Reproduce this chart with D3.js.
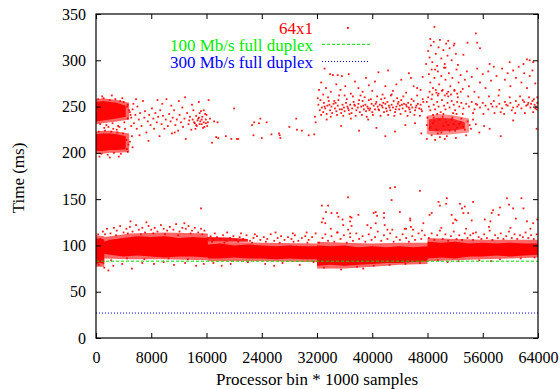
<!DOCTYPE html>
<html><head><meta charset="utf-8">
<script src="https://cdn.jsdelivr.net/npm/d3@7/dist/d3.min.js"></script>
<style>body{margin:0;background:#fff}svg{display:block}
text{font-family:"Liberation Serif","Times New Roman","DejaVu Serif",serif !important;}</style>
</head><body><svg id="c" width="560" height="389"></svg>
<script>
// ---- data (x in thousands of samples, y in ms) ----
const xTickValues = [0,8000,16000,24000,32000,40000,48000,56000,64000];
const yTickValues = [0,50,100,150,200,250,300,350];
const seriesLabel = "64x1";
const refLabels = ["100 Mb/s full duplex","300 Mb/s full duplex"];
const refValues = [83, 27];

// dense lower band envelope (solid core + softer halo)
const coreX  = [0,0.6,1.2,1.2,2,4,6,8,10,12,14,16.2,16.2,18,20,22,24,26,28,30,32,32,34,36,38,40,42,44,46,48,48,50,52,54,56,58,60,62,64];
const coreHi = [107,108,106,104,106,108,110,109,110,108,109,108,101,102,100,101,100,99,100,99,99,100,99,100,98,99,98,99,98,99,104,103,104,102,103,102,103,102,102];
const coreLo = [80,81,80,91,90,88,89,88,87,88,88,87,86,86,87,86,86,85,86,85,85,78,79,78,79,80,81,81,82,83,86,87,86,88,88,89,88,89,90];
const haloX  = [0,1.2,1.2,5,10,16.2,16.2,24,32,32,36,40,44,48,48,52,56,60,64];
const haloHi = [111,110,109,113,114,113,104,103,102,104,103,102,103,103,108,107,106,106,106];
const haloLo = [77,77,86,85,85,84,83,83,82,75,75,77,79,80,83,84,85,86,87];
// dense stripe 16-22k
const stripeX = [16.2,19,22];
const stripeLo = [104,104,104];
const stripeHi = [109,108.5,107];
// dense upper clusters
const clusterAX = [0,1,2,3,4.3];
const clusterALo = [234,235,236,237,239];
const clusterAHi = [255,256,255,254,251];
const haloAX = [0,1,2,3,4.8];
const haloALo = [231,232,233,234,236];
const haloAHi = [258,259,258,257,254];
const clusterBX = [0,1,2,3,4.3];
const clusterBLo = [202,202,203,203,204];
const clusterBHi = [220,221,221,220,218];
const haloBX = [0,1,2,3,4.8];
const haloBLo = [199,199,200,200,201];
const haloBHi = [223,224,224,223,221];
const clusterCX = [48.2,49.5,51.5,53.4];
const clusterCLo = [224,223,224,226];
const clusterCHi = [236,238,237,233];
const haloCX = [47.9,49.5,51.5,54.0];
const haloCLo = [220,219,220,222];
const haloCHi = [240,242,241,237];

const upperLeft = [[0.3,258],[1.1,259],[2.0,257],[2.8,258],[3.5,256],[4.0,255],[0.6,231],[1.5,230],[2.4,232],[3.2,229],[4.1,233],[4.5,250],[4.8,246],[5.0,241],[4.6,237],
[0.4,223],[1.3,224],[2.2,223],[3.1,222],[3.9,221],[0.8,199],[1.7,198],[2.6,200],[3.6,199],[4.4,214],[4.7,209],[4.5,204],[5.2,218],[1.2,227],[2.5,226],[3.4,228],[4.2,226],
[0.9,261],[2.3,262],[3.8,259],[5.4,253],[5.1,229],[4.9,212],[5.3,206],[0.5,196],[2.0,195],[3.3,196],[4.6,201],[1.8,228],[3.0,225],
[4.6,252],[4.9,244],[5.1,238],[5.3,247],[5.5,232],[5.7,241],[5.9,226],[6.0,250],[6.2,236],[6.4,243],[6.6,229],[6.8,256],[7.0,238],[7.1,245],[7.3,222],[7.5,234],[7.7,241],[7.9,230],[8.1,248],[8.3,237],[8.4,226],[8.6,243],[8.8,233],[9.0,239],[9.2,218],[9.3,246],[9.5,231],[9.7,240],[9.9,226],[10.1,236],[10.2,258],[10.4,229],[10.6,242],[10.8,234],[11.0,221],[11.1,238],[11.3,246],[11.5,230],[11.7,236],[11.9,224],[12.1,241],[12.3,233],[12.5,249],[12.6,228],[12.8,237],[13.0,215],[13.2,243],[13.4,231],[13.6,239],[13.8,225],[14.0,236],[14.1,246],[14.3,232],[14.5,240],[14.6,229],[14.8,237],[15.0,243],[15.1,234],[15.3,231],[15.4,239],[15.6,246],[15.7,228],[15.9,236],[16.0,241],[16.2,233],[16.3,257],[16.5,237],[14.9,255],[13.9,252],[12.0,256],[11.4,222],[7.6,213],[6.3,219],[9.6,253],[8.9,257],[10.9,251],[5.8,258],[12.9,260],[15.5,227],[16.1,229],[14.4,226],[13.5,235],[15.2,245],[15.8,242],
[14.2,233],[14.7,235],[15.0,231],[15.6,233],[14.9,238],[15.3,236],[14.5,230],[15.9,232]];

const upperMid = [[20.0,248],[17.1,234],[17.6,233],[17.4,217],[16.8,211],[17.7,216],[18.8,218],[19.6,215],[20.4,215],[20.6,215],[22.8,219],[24.0,216],[22.9,233],[22.6,230],[23.6,232],[23.8,237],[24.7,233],[25.4,220],[26.5,221],[26.6,219],[26.7,216],[28.0,228],[29.0,237],[29.1,225],[29.8,224],[30.8,219],[31.6,220],[31.8,233],
[32.2,252],[32.4,246],[32.5,257],[32.7,249],[32.9,244],[33.0,254],[33.2,248],[33.4,242],[33.5,251],[33.7,256],[33.9,246],[34.1,250],[34.2,243],[34.4,253],[34.6,248],[34.8,245],[35.0,251],[35.1,257],[35.3,247],[35.5,243],[35.7,252],[35.9,249],[36.0,245],[36.2,254],[36.4,250],[36.6,246],[36.8,252],[37.0,243],[37.1,248],[37.3,255],[37.5,251],[37.7,246],[37.9,249],[38.0,253],[38.2,244],[38.4,250],[38.6,256],[38.8,247],[39.0,252],[39.1,245],[39.3,250],[39.5,257],[39.7,248],[39.9,253],[40.0,244],[40.2,251],[40.4,247],[40.6,255],[40.8,250],[41.0,246],[41.1,252],[41.3,258],[41.5,249],[41.7,244],[41.9,253],[42.0,248],[42.2,255],[42.4,251],[42.6,246],[42.8,252],[43.0,249],[43.1,256],[43.3,244],[43.5,250],[43.7,253],[43.9,247],[44.0,251],[44.2,257],[44.4,248],[44.6,253],[44.8,245],[45.0,250],[45.2,254],[45.4,247],[45.6,252],[45.8,249],[46.0,256],[46.2,246],[46.4,251],[46.6,253],[46.8,248],[47.0,252],[47.2,245],[47.4,255],[41.6,254],[42.1,245],[43.8,255],[44.9,252],[45.5,244],[40.5,253],[39.6,246],
[32.1,259],[32.6,241],[33.1,250],[33.6,260],[34.0,239],[34.5,256],[34.9,241],[35.2,262],[35.8,240],[36.3,258],[36.7,242],[37.2,261],[37.6,240],[38.1,257],[38.5,241],[38.9,260],[39.2,239],[39.8,258],[40.1,241],[40.7,261],[41.2,240],[41.8,259],[42.3,241],[42.7,262],[43.2,240],[43.6,259],[44.1,242],[44.5,261],[45.1,240],[45.7,258],[46.1,241],[46.5,262],[46.9,240],[47.3,258],[33.8,252],[35.6,247],[37.4,252],[39.4,248],[41.4,251],[43.4,247],[45.3,249],[47.1,247],[34.7,254],[36.5,248],[38.7,251],[40.9,247],[42.5,249],[44.3,252],[46.3,249],
[32.3,268],[32.6,276],[32.9,263],[33.1,291],[33.3,270],[33.9,285],[34.3,284],[35.0,284],[35.6,283],[36.6,285],[34.0,266],[34.8,274],[35.4,268],[36.1,272],[36.9,264],[37.5,277],[38.0,270],[38.6,266],[39.1,281],[39.5,273],[40.0,267],[40.4,277],[40.9,287],[41.5,263],[41.9,272],[42.3,289],[43.0,267],[43.5,274],[44.2,279],[44.9,265],[45.3,286],[45.6,281],[46.0,272],[46.5,270],[47.0,268],[47.3,282],[36.0,262],[38.3,262],[42.8,263],
[31.7,239],[33.4,236],[35.5,229],[36.9,237],[38.1,224],[39.4,236],[40.6,227],[41.9,218],[43.3,223],[44.8,230],[46.2,232],[47.1,221]];

const upperRight = [[49.0,336],[55.0,329],[55.2,319],[55.6,313],[53.8,319],[51.9,318],[62.4,301],[62.8,300],[63.3,298],
[48.1,310],[48.3,303],[48.5,316],[48.7,298],[48.9,320],[49.2,307],[49.4,294],[49.6,314],[49.8,322],[50.0,302],[50.3,311],[50.5,296],[50.7,318],[50.9,305],[51.2,313],[51.5,300],[51.8,316],[52.1,307],[52.4,295],[49.1,290],[50.6,292],[51.0,321],[48.4,323],[53.2,306],
[47.8,296],[48.2,285],[48.4,276],[48.6,290],[48.8,270],[49.0,281],[49.3,265],[49.5,288],[49.7,274],[50.0,283],[50.2,268],[50.4,292],[50.6,279],[50.8,264],[51.1,286],[51.3,272],[51.6,281],[51.9,267],[52.2,290],[52.5,276],[52.8,284],[53.1,269],[53.4,279],[53.7,288],[54.0,272],[54.4,282],[54.8,266],[55.2,291],[55.6,276],[56.0,285],[56.4,270],[56.8,288],[57.2,278],[57.6,293],[58.0,283],[58.4,268],[58.8,291],[59.2,279],[59.6,286],[60.0,272],[60.4,289],[60.8,281],[61.2,293],[61.6,276],[62.0,286],[62.4,270],[62.8,283],[63.2,289],[63.6,275],[61.9,296],[57.0,296],[59.9,298],
[48.3,266],[48.7,263],[49.2,268],[49.6,264],[50.1,267],[50.5,262],[51.0,266],[51.4,263],[51.9,268],[52.3,264],[52.8,266],
[47.9,255],[48.2,250],[48.4,246],[48.6,258],[48.9,252],[49.1,247],[49.4,255],[49.6,250],[49.9,244],[50.1,257],[50.4,251],[50.6,247],[50.9,254],[51.2,249],[51.5,256],[51.8,252],[52.0,246],[52.3,255],[52.6,250],[52.9,254],[53.2,248],[53.6,253],[54.0,250],[54.4,255],[54.8,247],[55.2,252],[55.6,249],[56.0,254],[56.4,251],[56.8,247],[57.2,253],[57.6,256],[58.0,250],[58.4,253],[58.8,248],[59.2,255],[59.6,251],[60.0,254],[60.4,249],[60.8,256],[61.2,252],[61.6,248],[62.0,255],[62.3,251],[62.6,254],[62.9,249],[63.2,256],[63.5,252],[63.7,250],[63.9,254],[63.8,247],[63.4,258],[61.8,257],[60.2,246],[58.6,244],
[48.1,260],[48.8,241],[49.5,262],[50.3,242],[51.0,261],[51.7,243],[52.4,260],[53.1,242],[53.9,261],[54.6,243],[55.4,260],[56.1,242],[56.9,261],[57.7,243],[58.3,262],[59.1,242],[59.9,260],[60.7,243],[61.4,261],[62.1,243],[62.7,260],[63.3,244],[63.9,260],[55.0,253],[57.4,250],[59.4,252],[61.0,250],[62.5,252],[63.0,253],[63.6,248],
[48.0,238],[48.3,226],[48.6,219],[49.0,234],[49.5,221],[50.2,239],[50.8,218],[51.5,236],[52.0,224],[52.6,231],[53.2,228],[53.8,234],[54.3,226],[55.0,231],[55.5,222],[56.2,229],[57.0,226],[49.8,217],[51.0,230],[52.9,237],[58.6,218],[63.8,226],[60.4,235],
[48.4,228],[48.8,232],[49.3,225],[49.7,236],[50.3,229],[50.7,233],[51.2,224],[51.8,231],[52.3,227],[52.8,233],[53.4,225],[48.9,238],[50.0,222],[51.6,238],
[47.9,215],[49.1,214],[50.5,215],[52.1,216],[53.6,219],[54.6,236],[54.1,230],[47.9,230],[52.2,242],[49.4,242]];

const lowerFringe = [[0.3,112],[1.0,115],[1.6,118],[2.1,113],[2.6,119],[3.0,116],[3.5,121],[4.0,114],[4.4,118],[4.9,120],[5.3,115],[5.8,122],[6.2,117],[6.7,119],[7.1,114],[7.6,121],[8.0,117],[8.5,119],[8.9,115],[9.4,122],[9.8,118],[10.3,116],[10.7,120],[11.2,117],[11.6,123],[12.1,115],[12.5,119],[13.0,118],[13.4,121],[13.9,116],[14.3,119],[14.8,114],[15.2,118],[15.7,116],[1.3,112],[2.9,111],[4.6,113],[6.5,112],[8.3,113],[10.0,112],[11.9,111],[13.7,113],[15.4,112],[7.3,125],[12.8,124],[5.0,126],[15.2,140],
[0.4,79],[1.2,76],[1.8,73],[2.5,78],[3.8,80],[5.2,75],[6.7,81],[8.4,80],[9.8,82],[11.3,79],[12.9,81],[14.5,78],[15.6,80],[2.2,84],[4.5,86],[7.0,85],[10.5,86],[13.3,85],
[16.2,108],[16.6,110],[17.0,106],[17.5,109],[18.0,107],[18.4,111],[18.9,105],[19.4,108],[19.9,110],[20.3,106],[20.8,109],[21.3,107],[21.8,111],[22.3,105],[22.8,108],[23.3,110],[23.8,106],[24.3,109],[24.8,107],[25.3,112],[25.8,105],[26.3,108],[26.8,110],[27.3,106],[27.8,109],[28.3,107],[28.8,111],[29.3,105],[29.8,108],[30.3,110],[30.8,106],[31.3,109],[31.8,113],[17.2,113],[19.0,114],[21.0,113],[23.0,112],[26.0,114],[28.5,113],[30.5,114],[16.8,104],[18.6,103],[20.6,104],[22.6,103],[24.6,104],[26.6,103],[28.6,104],[30.6,103],
[17.0,81],[19.5,80],[22.0,82],[24.5,80],[27.0,81],[29.5,79],[31.5,82],[18.2,78],[25.8,78],
[32.3,103],[32.8,108],[33.2,112],[33.6,105],[34.1,110],[34.5,104],[35.0,114],[35.4,107],[35.9,111],[36.3,103],[36.8,109],[37.2,105],[37.7,113],[38.1,107],[38.6,110],[39.0,104],[39.5,112],[39.9,106],[40.4,109],[40.8,115],[41.3,105],[41.7,111],[42.2,107],[42.6,113],[43.1,104],[43.5,109],[44.0,106],[44.4,112],[44.9,108],[45.3,104],[45.8,110],[46.2,106],[46.7,113],[47.1,107],[47.6,111],[34.0,118],[37.0,121],[39.8,119],[42.9,117],[45.6,120],[47.2,116],
[33.0,76],[35.5,74],[37.8,77],[40.2,78],[42.5,79],[44.8,80],[46.9,81],[38.7,75],
[48.2,108],[48.6,113],[49.0,106],[49.4,111],[49.8,116],[50.2,107],[50.6,112],[51.0,105],[51.4,110],[51.8,115],[52.2,107],[52.6,111],[53.0,106],[53.4,113],[53.8,108],[54.2,111],[54.6,106],[55.0,114],[55.4,109],[55.8,107],[56.2,112],[56.6,108],[57.0,116],[57.4,106],[57.8,111],[58.2,108],[58.6,113],[59.0,107],[59.4,110],[59.8,115],[60.2,108],[60.6,112],[61.0,107],[61.4,111],[61.8,109],[62.2,114],[62.6,108],[63.0,111],[63.4,107],[63.8,112],[50.0,119],[53.6,118],[56.9,120],[60.0,119],[62.9,118],
[49.5,84],[52.5,83],[55.5,84],[58.5,85],[61.5,86],[63.5,87],[50.9,82],[57.2,83]];

const outliers = [[32.7,143],[33.6,143],[33.3,136],[34.1,135],[32.9,129],[32.7,125],[33.2,124],[34.9,135],[35.1,131],[35.7,128],[36.5,152],[36.8,131],[37.0,130],[36.8,126],[35.8,122],[34.9,114],[36.5,117],[36.8,113],[38.0,133],[39.3,122],[40.2,135],[40.5,136],[40.7,132],[41.7,135],[41.7,130],[40.5,124],[41.8,122],[42.6,162],[43.3,163],[42.8,149],[44.0,136],[42.2,117],[44.7,118],[44.9,118],[45.5,129],[45.5,127],[46.9,159],[45.9,117],[47.4,124],
[48.3,133],[48.6,135],[49.6,147],[49.8,143],[50.8,151],[50.7,145],[51.5,133],[51.7,124],[52.0,128],[52.2,127],[52.7,145],[53.0,140],[53.4,142],[53.2,135],[53.9,135],[54.6,147],[54.4,127],[54.6,113],[56.3,128],[57.1,126],[57.3,135],[57.5,138],[58.3,133],[58.5,141],[59.5,151],[59.8,144],[60.4,140],[60.8,129],[61.6,151],[61.9,140],[62.4,126],[63.3,124],[63.9,128]];

// ---- drawing ----
const svg = d3.select("#c");
const m = {l:96, r:538, t:14, b:338};
const x = d3.scaleLinear().domain([0,64000]).range([m.l,m.r]);
const y = d3.scaleLinear().domain([0,350]).range([m.b,m.t]);
const FONT = "Liberation Serif";
const RED = "#ff0000";

const plot = svg.append("g");
function band(X, Lo, Hi, op){
  const pts = X.map((v,i)=>({x:v*1000, lo:Lo[i], hi:Hi[i]}));
  plot.append("path").datum(pts)
    .attr("d", d3.area().x(d=>x(d.x)).y0(d=>y(d.lo)).y1(d=>y(d.hi)))
    .attr("fill", RED).attr("fill-opacity", op);
}
band(haloX, haloLo, haloHi, 0.6);
band(coreX, coreLo, coreHi, 1);
band(stripeX, stripeLo, stripeHi, 0.9);
band(haloAX, haloALo, haloAHi, 0.6);
band(clusterAX, clusterALo, clusterAHi, 0.95);
band(haloBX, haloBLo, haloBHi, 0.6);
band(clusterBX, clusterBLo, clusterBHi, 0.95);
band(haloCX, haloCLo, haloCHi, 0.45);
band(clusterCX, clusterCLo, clusterCHi, 0.75);

const allPts = [].concat(upperLeft, upperMid, upperRight, lowerFringe, outliers);
plot.selectAll("rect.pt").data(allPts).join("rect").attr("class","pt")
  .attr("x", d=>x(d[0]*1000)-0.9).attr("y", d=>y(d[1])-0.9)
  .attr("width",1.8).attr("height",1.8).attr("fill",RED).attr("fill-opacity",0.9);

// reference lines
const refStyles = [{c:"#00dd00", dash:"3,2"}, {c:"#0000ff", dash:"1,2"}];
refValues.forEach((v,i)=>{
  svg.append("line").attr("x1",x(0)).attr("x2",x(64000))
    .attr("y1",y(v)).attr("y2",y(v))
    .attr("stroke",refStyles[i].c).attr("stroke-width",1).attr("stroke-dasharray",refStyles[i].dash);
});

// axes (inward ticks, mirrored)
const tick = 5;
const gx = svg.append("g").attr("transform",`translate(0,${m.b})`)
  .call(d3.axisBottom(x).tickValues(xTickValues).tickFormat(d3.format("d")).tickSize(-tick).tickPadding(14));
const gy = svg.append("g").attr("transform",`translate(${m.l},0)`)
  .call(d3.axisLeft(y).tickValues(yTickValues).tickFormat(d3.format("d")).tickSize(-tick).tickPadding(10));
const gx2 = svg.append("g").attr("transform",`translate(0,${m.t})`)
  .call(d3.axisTop(x).tickValues(xTickValues).tickFormat("").tickSize(-tick));
const gy2 = svg.append("g").attr("transform",`translate(${m.r},0)`)
  .call(d3.axisRight(y).tickValues(yTickValues).tickFormat("").tickSize(-tick));
[gx,gy,gx2,gy2].forEach(g=>{
  g.select(".domain").remove();
  g.selectAll("line").attr("stroke","#000");
  g.attr("font-family",FONT).attr("font-size",16);
  g.selectAll("text").attr("fill","#000");
});
svg.append("rect").attr("x",m.l).attr("y",m.t).attr("width",m.r-m.l).attr("height",m.b-m.t)
  .attr("fill","none").attr("stroke","#000").attr("stroke-width",1.2);

// titles
svg.append("text").attr("x",(m.l+m.r)/2).attr("y",385).attr("text-anchor","middle")
  .attr("font-size",17).text("Processor bin * 1000 samples");
svg.append("text").attr("transform","translate(24,178) rotate(-90)").attr("text-anchor","middle")
  .attr("font-size",17).text("Time (ms)");

// legend
const legX = 313;
svg.append("text").attr("x",legX).attr("y",33.5).attr("text-anchor","end")
  .attr("font-size",17).attr("fill",RED).text(seriesLabel);
svg.append("rect").attr("x",347).attr("y",27).attr("width",1.8).attr("height",1.8).attr("fill",RED);
const legColors = ["#00dd00","#0000ff"];
refLabels.forEach((t,i)=>{
  const by = 50.8 + i*17.2;
  svg.append("text").attr("x",legX).attr("y",by).attr("text-anchor","end")
    .attr("font-size",17).attr("fill",i===0?"#00ee00":"#0000ff").text(t);
  svg.append("line").attr("x1",322).attr("x2",370).attr("y1",by-6.5).attr("y2",by-6.5)
    .attr("stroke",legColors[i]).attr("stroke-width",1).attr("stroke-dasharray",refStyles[i].dash);
});
</script></body></html>
